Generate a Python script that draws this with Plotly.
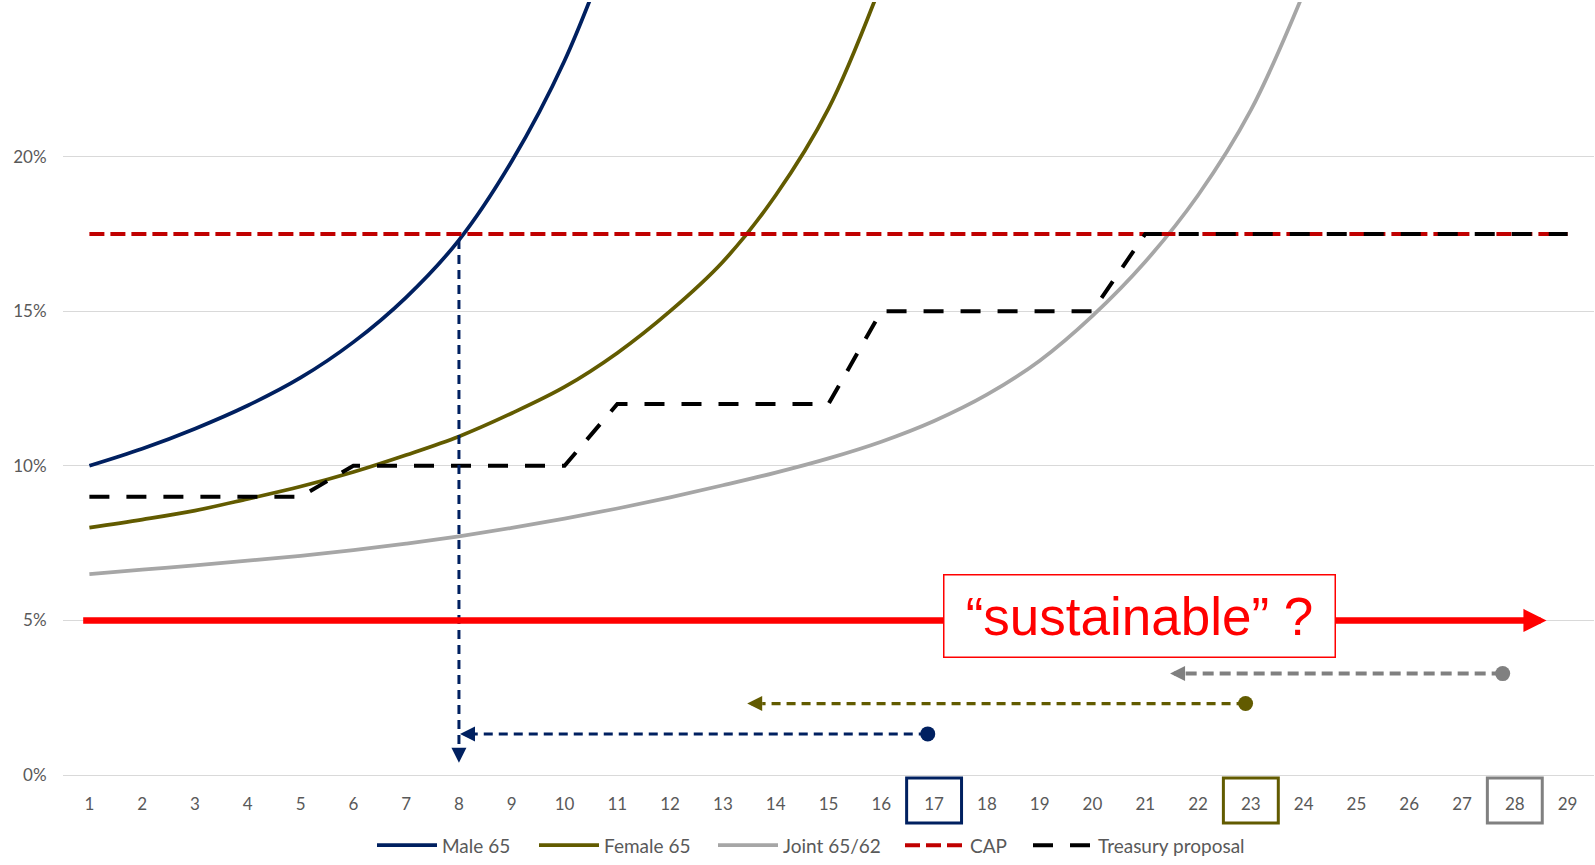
import plotly.graph_objects as go

# ---- data -------------------------------------------------------------------
years = list(range(1, 30))
year_labels = [str(y) for y in years]

# withdrawal rate needed each year (only the visible part of each curve)
male_65 = [0.1000, 0.1055, 0.1120, 0.1195, 0.1285, 0.1400, 0.1545, 0.1730, 0.1985, 0.2310,
           0.2740]
female_65 = [0.0800, 0.0826, 0.0855, 0.0893, 0.0933, 0.0980, 0.1035, 0.1095, 0.1170, 0.1255,
             0.1365, 0.1500, 0.1660, 0.1875, 0.2155, 0.2560]
joint_65_62 = [0.0650, 0.0664, 0.0678, 0.0693, 0.0709, 0.0727, 0.0748, 0.0772, 0.0799, 0.0829,
               0.0862, 0.0898, 0.0937, 0.0978, 0.1024, 0.1078, 0.1145, 0.1230, 0.1340, 0.1485,
               0.1660, 0.1875, 0.2150, 0.2530]
cap_rate = [0.175] * 29
treasury_proposal = [0.09] * 5 + [0.10] * 5 + [0.12] * 5 + [0.15] * 5 + [0.175] * 9

sustainable_rate = 0.05
sustainable_span = [0.854, 28.60]

# depletion arrows: from the year savings run out back to the year the cap bites
depletion_from = [16.88, 22.90, 27.77]
depletion_to = [8.02, 13.46, 21.47]
depletion_level = [0.0133, 0.0231, 0.0328]
highlight_years = [17, 23, 28]
male_cap_year = 8
male_drop_tip = 0.004

# ---- styling ------------------------------------------------------------------
NAVY = "#002060"
OLIVE = "#625B00"
GRAY_LINE = "#A6A6A6"
GRAY_ARROW = "#808080"
CAP_RED = "#C00000"
RED = "#FF0000"
TEXT_GRAY = "#595959"
GRID = "#D9D9D9"
FONT = "Lato"

W, H = 1595, 865
M_L, M_R, M_T, M_B = 63, 1, 2, 86
X_RANGE = [0.5, 29.5]
Y_RANGE = [0.0, 0.25]
PLOT_W = W - M_L - M_R
PLOT_H = H - M_T - M_B
X_PER_PX = (X_RANGE[1] - X_RANGE[0]) / PLOT_W
Y_PER_PX = (Y_RANGE[1] - Y_RANGE[0]) / PLOT_H
HEAD_PX = 15

# left edge (px) of each legend entry along the bottom row
LEGEND_LEFT_PX = [372, 534, 713, 900, 1028]
LEGEND_Y = -0.091

arrow_colors = [NAVY, OLIVE, GRAY_ARROW]
arrow_widths = [3, 3.3, 4]
arrow_dash = ["9px,6px", "9px,6px", "11px,6px"]

fig = go.Figure()

curve_style = dict(mode="lines", line_shape="spline", hoverinfo="skip")
fig.add_trace(go.Scatter(x=years[:len(male_65)], y=male_65, name="Male 65", legend="legend",
                         line=dict(color=NAVY, width=3.75), **curve_style))
fig.add_trace(go.Scatter(x=years[:len(female_65)], y=female_65, name="Female 65",
                         legend="legend2", line=dict(color=OLIVE, width=3.75), **curve_style))
fig.add_trace(go.Scatter(x=years[:len(joint_65_62)], y=joint_65_62, name="Joint 65/62",
                         legend="legend3", line=dict(color=GRAY_LINE, width=3.75),
                         **curve_style))
fig.add_trace(go.Scatter(x=years, y=cap_rate, name="CAP", mode="lines", hoverinfo="skip",
                         legend="legend4", line=dict(color=CAP_RED, width=4, dash="15px,6px")))
fig.add_trace(go.Scatter(x=years, y=treasury_proposal, name="Treasury proposal", mode="lines",
                         hoverinfo="skip", legend="legend5",
                         line=dict(color="black", width=4, dash="20px,17px")))

# vertical drop from where the male curve meets the cap
fig.add_trace(go.Scatter(
    x=[male_cap_year, male_cap_year],
    y=[male_65[male_cap_year - 1], male_drop_tip + HEAD_PX * Y_PER_PX],
    mode="lines", showlegend=False, hoverinfo="skip",
    line=dict(color=NAVY, width=3, dash="9px,6px")))

annotations = []

# horizontal depletion arrows with a dot at their start
for x0, x1, lvl, col, wd, ds in zip(depletion_from, depletion_to, depletion_level,
                                    arrow_colors, arrow_widths, arrow_dash):
    fig.add_trace(go.Scatter(x=[x0, x1 + HEAD_PX * X_PER_PX], y=[lvl, lvl], mode="lines",
                             showlegend=False, hoverinfo="skip",
                             line=dict(color=col, width=wd, dash=ds)))
    fig.add_trace(go.Scatter(x=[x0], y=[lvl], mode="markers", showlegend=False,
                             hoverinfo="skip", marker=dict(color=col, size=15)))
    annotations.append(dict(x=x1, y=lvl, xref="x", yref="y", text="", showarrow=True,
                            ax=HEAD_PX, ay=0, arrowhead=2, arrowwidth=wd,
                            arrowsize=HEAD_PX / 5 / wd, arrowcolor=col, standoff=0))

# arrowhead at the bottom of the vertical drop
annotations.append(dict(x=male_cap_year, y=male_drop_tip, xref="x", yref="y", text="",
                        showarrow=True, ax=0, ay=-HEAD_PX, arrowhead=2, arrowwidth=3,
                        arrowsize=HEAD_PX / 5 / 3, arrowcolor=NAVY, standoff=0))

# the 5% "sustainable" line
annotations.append(dict(x=sustainable_span[1], y=sustainable_rate, xref="x", yref="y",
                        ax=sustainable_span[0], ay=sustainable_rate, axref="x", ayref="y",
                        text="", showarrow=True, arrowhead=2, arrowwidth=6.5,
                        arrowsize=0.71, arrowcolor=RED, standoff=0))
annotations.append(dict(x=20.886, y=0.05155, xref="x", yref="y",
                        text="\u201csustainable\u201d ?", showarrow=False,
                        font=dict(family="Liberation Sans, Arial", size=53, color=RED),
                        bgcolor="white", bordercolor=RED, borderwidth=1.5, borderpad=1,
                        width=388, height=79, align="center", valign="middle"))

# boxes around the highlighted year labels
shapes = []
for yr, col in zip(highlight_years, arrow_colors):
    shapes.append(dict(type="rect", xref="x", yref="paper", x0=yr - 0.52, x1=yr + 0.52,
                       y0=-0.062, y1=-0.004, line=dict(color=col, width=3),
                       fillcolor="rgba(0,0,0,0)", layer="above"))

legend_style = dict(orientation="h", xanchor="left", yanchor="middle", y=LEGEND_Y,
                    itemwidth=60, bgcolor="rgba(0,0,0,0)", borderwidth=0,
                    font=dict(family=FONT, size=19, color=TEXT_GRAY))
legends = {}
for i, left_px in enumerate(LEGEND_LEFT_PX):
    key = "legend" if i == 0 else "legend%d" % (i + 1)
    legends[key] = dict(x=(left_px - M_L) / PLOT_W, **legend_style)

fig.update_layout(
    width=W, height=H,
    margin=dict(l=M_L, r=M_R, t=M_T, b=M_B, pad=0),
    paper_bgcolor="white", plot_bgcolor="white",
    font=dict(family=FONT, color=TEXT_GRAY, size=17),
    showlegend=True,
    annotations=annotations,
    shapes=shapes,
    hovermode=False,
    **legends,
)
fig.update_xaxes(range=X_RANGE, tickvals=years, ticktext=year_labels, showgrid=False,
                 zeroline=False, showline=False, ticks="outside", ticklen=14,
                 tickcolor="rgba(0,0,0,0)", tickfont=dict(family=FONT, size=17, color=TEXT_GRAY))
fig.update_yaxes(range=Y_RANGE, tickvals=[0, 0.05, 0.10, 0.15, 0.20], tickformat=".0%",
                 showgrid=True, gridcolor=GRID, gridwidth=1, zeroline=True,
                 zerolinecolor=GRID, zerolinewidth=1, showline=False, ticks="outside",
                 ticklen=12, tickcolor="rgba(0,0,0,0)",
                 tickfont=dict(family=FONT, size=17, color=TEXT_GRAY))

fig.write_html("out.html")
